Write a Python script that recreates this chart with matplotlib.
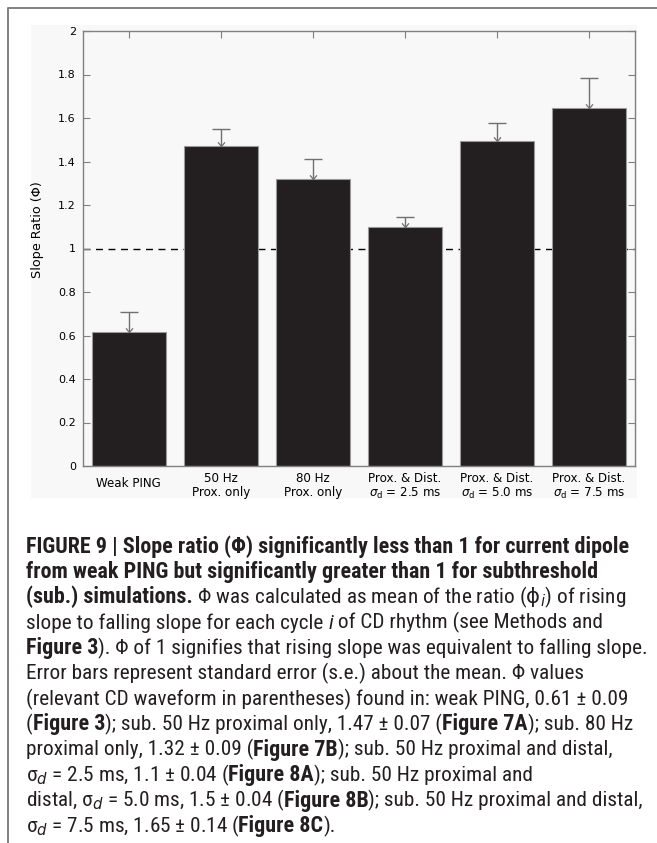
import os
import matplotlib
matplotlib.use("Agg")
import matplotlib.pyplot as plt
from matplotlib import font_manager as fm
from matplotlib.patches import Rectangle
from matplotlib.lines import Line2D
from matplotlib.path import Path
from matplotlib.markers import MarkerStyle
import numpy as np

# ---------------- data ----------------
categories = ["Weak PING", "50 Hz\nProx. only", "80 Hz\nProx. only",
              "Prox. & Dist.\n$\\sigma_{\\rm d}$ = 2.5 ms",
              "Prox. & Dist.\n$\\sigma_{\\rm d}$ = 5.0 ms",
              "Prox. & Dist.\n$\\sigma_{\\rm d}$ = 7.5 ms"]
ratio = [0.615, 1.470, 1.318, 1.100, 1.493, 1.647]
sem = [0.095, 0.078, 0.095, 0.045, 0.085, 0.137]
yticks = [0, 0.2, 0.4, 0.6, 0.8, 1.0, 1.2, 1.4, 1.6, 1.8, 2.0]
ytick_labels = ["0", "0.2", "0.4", "0.6", "0.8", "1", "1.2", "1.4", "1.6", "1.8", "2"]
ylabel = "Slope Ratio (\u03a6)"

caption_lines = [
    [("FIGURE 9 | Slope ratio (\u03a6) significantly less than 1 for current dipole", "b")],
    [("from weak PING but significantly greater than 1 for subthreshold", "b")],
    [("(sub.) simulations.", "b"),
     (" \u03a6 was calculated as mean of the ratio ($\\mathrm{\\phi}_i$) of rising", "r")],
    [("slope to falling slope for each cycle ", "r"), ("i", "i"), (" of CD rhythm (see Methods and", "r")],
    [("Figure 3", "b"), ("). \u03a6 of 1 signifies that rising slope was equivalent to falling slope.", "r")],
    [("Error bars represent standard error (s.e.) about the mean. \u03a6 values", "r")],
    [("(relevant CD waveform in parentheses) found in: weak PING, 0.61 \u00b1 0.09", "r")],
    [("(", "r"), ("Figure 3", "b"), ("); sub. 50 Hz proximal only, 1.47 \u00b1 0.07 (", "r"),
     ("Figure 7A", "b"), ("); sub. 80 Hz", "r")],
    [("proximal only, 1.32 \u00b1 0.09 (", "r"), ("Figure 7B", "b"), ("); sub. 50 Hz proximal and distal,", "r")],
    [("\u03c3$_d$ = 2.5 ms, 1.1 \u00b1 0.04 (", "r"), ("Figure 8A", "b"), ("); sub. 50 Hz proximal and", "r")],
    [("distal, \u03c3$_d$ = 5.0 ms, 1.5 \u00b1 0.04 (", "r"), ("Figure 8B", "b"), ("); sub. 50 Hz proximal and distal,", "r")],
    [("\u03c3$_d$ = 7.5 ms, 1.65 \u00b1 0.14 (", "r"), ("Figure 8C", "b"), (").", "r")],
]

# ---------------- pick a condensed sans font for the caption ----------------
def pick_condensed():
    prefs = ["liberation sans narrow", "roboto condensed", "noto sans", "open sans",
             "dejavu sans", "lato", "inter"]
    found = {}
    for f in fm.fontManager.ttflist:
        nm = f.name
        fn = os.path.basename(f.fname).lower()
        low = nm.lower()
        cond = ("narrow" in low or "condensed" in low or "narrow" in fn or "condensed" in fn)
        if not cond:
            continue
        if any(w in fn for w in ("extra", "ultra", "semi")):
            continue
        if f.style != "normal":
            continue
        if f.weight not in (400, "normal", "regular", "book"):
            continue
        found.setdefault(low, (nm, f.stretch))
    for p in prefs:
        for low, v in found.items():
            if low.startswith(p):
                return v
    if found:
        return list(found.values())[0]
    return ("Liberation Sans", "normal")


cond_name, cond_stretch = pick_condensed()
CAP_FAM = [cond_name, "Liberation Sans", "DejaVu Sans"]

# ---------------- layout ----------------
W, H = 657, 843
fig = plt.figure(figsize=(W / 100, H / 100), dpi=100)
fig.patch.set_facecolor("white")

# light gray panel behind the plot
fig.patches.append(Rectangle((31 / W, 1 - 498 / H), (637 - 31) / W, (498 - 25) / H,
                             transform=fig.transFigure, facecolor="#f8f8f8",
                             edgecolor="none", zorder=-1))
# outer frame (left and top)
fig.add_artist(Line2D([8 / W, 8 / W, 1.0], [0.0, 1 - 8 / H, 1 - 8 / H],
                      transform=fig.transFigure, color="#808080", lw=1.4))

ax = fig.add_axes([82.7 / W, 1 - 466 / H, 552.3 / W, 435 / H])
ax.set_zorder(1)
ax.set_facecolor("#f8f8f8")

x = np.arange(1, len(ratio) + 1)
ax.axhline(1.0, color="black", lw=1.0, ls=(0, (5, 4)), zorder=1)
ax.bar(x, ratio, width=0.8, color="#231f20", edgecolor="#9a9a9a", lw=0.8, zorder=2)
eb = ax.errorbar(x, ratio, yerr=[np.zeros(len(sem)), sem], fmt="none", ecolor="#707070",
                 elinewidth=1.0, capsize=6.5, capthick=1.0, zorder=3)
# hide the caps sitting on the bar tops (only upper caps are shown)
for cl in eb.lines[1]:
    yd = np.asarray(cl.get_ydata(), dtype=float)
    if np.allclose(yd, ratio):
        cl.set_visible(False)
vhead = MarkerStyle(Path([(-1.0, 1.2), (0.0, 0.0), (1.0, 1.2)]), fillstyle="none")
ax.plot(x, ratio, ls="none", marker=vhead, ms=6, mew=0.9, color="#707070", zorder=4)

ax.set_xlim(0.5, 6.5)
ax.set_ylim(0, 2)
ax.set_xticks(x)
ax.set_xticklabels(categories, fontsize=8.6, family="DejaVu Sans", linespacing=1.1)
ax.set_yticks(yticks)
ax.set_yticklabels(ytick_labels, fontsize=8, family="DejaVu Sans")
ax.tick_params(axis="x", bottom=False, top=True, direction="in", length=5,
               color="#808080", pad=4)
ax.tick_params(axis="y", left=True, right=True, direction="in", length=5,
               color="#808080", pad=5)
for s in ax.spines.values():
    s.set_color("#808080")
    s.set_linewidth(1.0)
ax.set_ylabel(ylabel, fontsize=9.2, family="DejaVu Sans")
ax.yaxis.set_label_coords(-0.070, 0.543)

labels = ax.get_xticklabels()
labels[0].set_y(-0.013)

# ---------------- caption ----------------
renderer = fig.canvas.get_renderer()
SIZES = {"b": 11.0, "r": 11.0, "i": 11.0}


def kw_for(style):
    kw = dict(fontsize=SIZES[style], family=CAP_FAM, fontstretch=cond_stretch,
              color="#231f20", va="baseline", ha="left")
    if style == "b":
        kw["fontweight"] = "bold"
    if style == "i":
        kw["fontstyle"] = "italic"
    return kw


def adv(txt, style):
    kw = kw_for(style)
    t1 = fig.text(0, 0, "|" + txt + "|", **kw)
    w1 = t1.get_window_extent(renderer).width
    t1.remove()
    t2 = fig.text(0, 0, "||", **kw)
    w2 = t2.get_window_extent(renderer).width
    t2.remove()
    return w1 - w2


# fit font sizes so reference line widths are matched
w_head = sum(adv(t, s) for t, s in caption_lines[0])
SIZES["b"] = 11.0 * 599.0 / w_head
w_reg = sum(adv(t, s) for t, s in caption_lines[6])
SIZES["r"] = 11.0 * 602.0 / w_reg
SIZES["i"] = SIZES["r"]

x0 = 26.0
y0 = 552.5
dy = 25.4
for k, runs in enumerate(caption_lines):
    xp = x0
    yp = y0 + k * dy
    for txt, style in runs:
        fig.text(xp / W, 1 - yp / H, txt, **kw_for(style))
        xp += adv(txt, style)

fig.savefig("out.png", dpi=100, facecolor="white")
